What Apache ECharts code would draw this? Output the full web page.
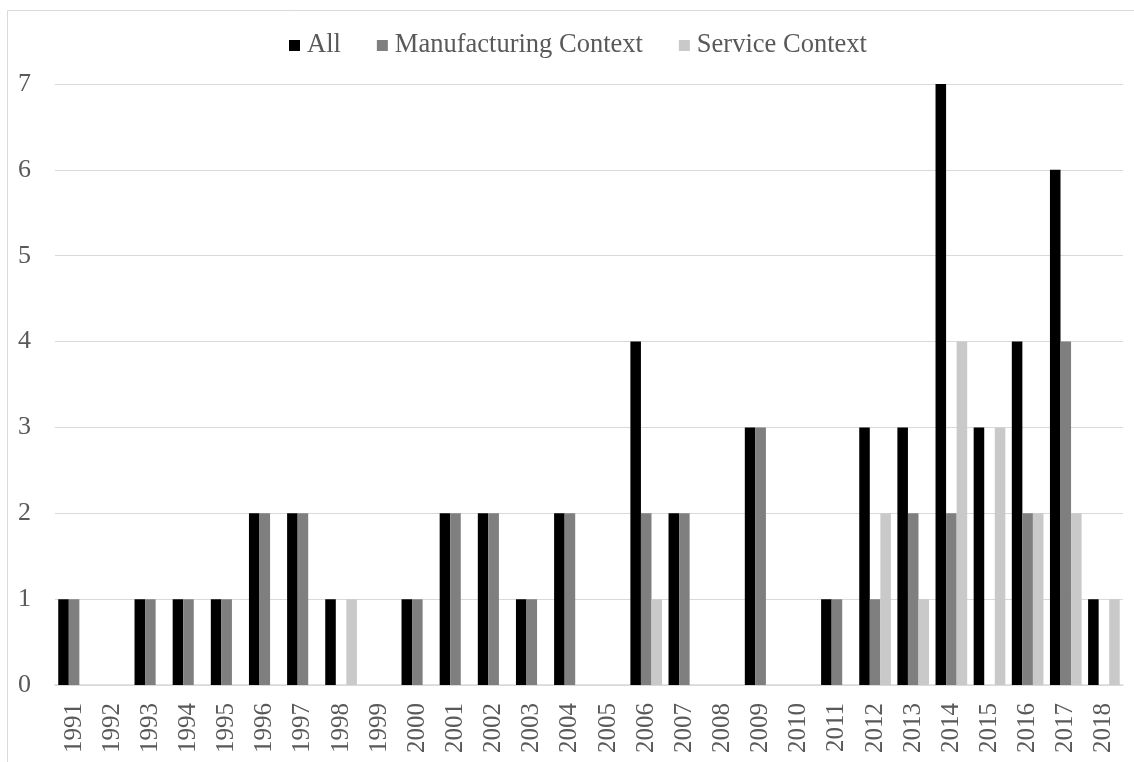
<!DOCTYPE html>
<html>
<head>
<meta charset="utf-8">
<script src="https://cdn.jsdelivr.net/npm/echarts@6/dist/echarts.min.js"></script>
<style>
  html, body { margin: 0; padding: 0; background: #ffffff; }
  #chart { width: 1134px; height: 762px; }
</style>
</head>
<body>
<div id="chart"></div>
<script>
// Publications per year, by context
const years = ['1991','1992','1993','1994','1995','1996','1997','1998','1999','2000',
  '2001','2002','2003','2004','2005','2006','2007','2008','2009','2010',
  '2011','2012','2013','2014','2015','2016','2017','2018'];
const allCounts = [1,0,1,1,1,2,2,1,0,1, 2,2,1,2,0,4,2,0,3,0, 1,3,3,7,3,4,6,1];
const manufacturing = [1,0,1,1,1,2,2,0,0,1, 2,2,1,2,0,2,2,0,3,0, 1,1,2,2,0,2,4,0];
const service = [0,0,0,0,0,0,0,1,0,0, 0,0,0,0,0,1,0,0,0,0, 0,2,1,4,3,2,2,1];
const yTicks = [0,1,2,3,4,5,6,7];

const fontFamily = '"Liberation Serif", "Times New Roman", serif';
const textColor = '#595959';

const chart = echarts.init(document.getElementById('chart'));
chart.setOption({
  animation: false,
  textStyle: { fontFamily: fontFamily },
  graphic: [{
    type: 'rect',
    shape: { x: 7.5, y: 10.5, width: 1300, height: 900 },
    style: { fill: 'none', stroke: '#d9d9d9', lineWidth: 1 },
    silent: true
  }],
  legend: {
    top: 27,
    left: 284,
    icon: 'rect',
    itemWidth: 11,
    itemHeight: 11,
    itemGap: 36,
    textStyle: { fontFamily: fontFamily, fontSize: 26.5, color: textColor, padding: [0, 0, 0, 2] },
    data: ['All', 'Manufacturing Context', 'Service Context']
  },
  grid: { left: 55, right: 11, top: 84, bottom: 77, containLabel: false },
  xAxis: {
    type: 'category',
    data: years,
    axisLine: { lineStyle: { color: '#d9d9d9', width: 1.5 } },
    axisTick: { show: false },
    axisLabel: {
      rotate: 90,
      interval: 0,
      margin: 18,
      fontFamily: fontFamily,
      fontSize: 25,
      color: textColor
    }
  },
  yAxis: {
    type: 'value',
    min: yTicks[0],
    max: yTicks[yTicks.length - 1],
    interval: 1,
    axisLine: { show: false },
    axisTick: { show: false },
    splitLine: { lineStyle: { color: '#d9d9d9', width: 1.2 } },
    axisLabel: {
      margin: 24,
      fontFamily: fontFamily,
      fontSize: 26,
      color: textColor
    }
  },
  series: [
    { name: 'All', type: 'bar', data: allCounts, barGap: '0%', barCategoryGap: '17%',
      itemStyle: { color: '#000000' } },
    { name: 'Manufacturing Context', type: 'bar', data: manufacturing, barGap: '0%', barCategoryGap: '17%',
      itemStyle: { color: '#7f7f7f' } },
    { name: 'Service Context', type: 'bar', data: service, barGap: '0%', barCategoryGap: '17%',
      itemStyle: { color: '#c9c9c9' } }
  ]
});
</script>
</body>
</html>
